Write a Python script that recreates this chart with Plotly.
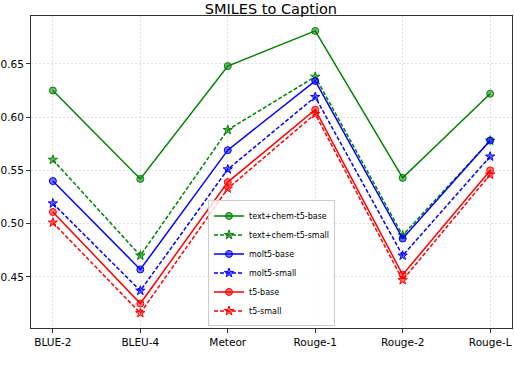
import plotly.graph_objects as go

# metrics on the x axis
metrics = ["BLUE-2", "BLEU-4", "Meteor", "Rouge-1", "Rouge-2", "Rouge-L"]

text_chem_t5_base = [0.625, 0.542, 0.648, 0.681, 0.543, 0.622]
text_chem_t5_small = [0.560, 0.470, 0.588, 0.638, 0.489, 0.578]
molt5_base = [0.540, 0.457, 0.569, 0.634, 0.486, 0.578]
molt5_small = [0.519, 0.437, 0.551, 0.619, 0.470, 0.563]
t5_base = [0.511, 0.425, 0.539, 0.607, 0.452, 0.550]
t5_small = [0.501, 0.416, 0.533, 0.603, 0.447, 0.546]

series = [
    ("text+chem-t5-base", text_chem_t5_base, "green", "rgba(0,128,0,0.55)", "solid", "circle"),
    ("text+chem-t5-small", text_chem_t5_small, "green", "rgba(0,128,0,0.55)", "4px,2px", "star"),
    ("molt5-base", molt5_base, "blue", "rgba(0,0,255,0.55)", "solid", "circle"),
    ("molt5-small", molt5_small, "blue", "rgba(0,0,255,0.55)", "4px,2px", "star"),
    ("t5-base", t5_base, "red", "rgba(255,0,0,0.55)", "solid", "circle"),
    ("t5-small", t5_small, "red", "rgba(255,0,0,0.55)", "4px,2px", "star"),
]

fig = go.Figure()
for name, vals, col, fill, dash, sym in series:
    fig.add_trace(go.Scatter(
        x=list(range(len(metrics))), y=vals, mode="lines+markers", name=name,
        line=dict(color=col, width=1.5, dash=dash),
        marker=dict(symbol=sym, size=7, color=fill,
                    line=dict(color=col, width=1)),
    ))

fig.update_layout(
    width=514, height=380,
    margin=dict(l=31, r=2, t=16, b=52),
    paper_bgcolor="white", plot_bgcolor="white",
    font=dict(family="DejaVu Sans", size=10.5, color="black"),
    title=dict(text="SMILES to Caption", x=0.527, xanchor="center", y=0.977, yanchor="middle",
               font=dict(size=14.5, color="black")),
    showlegend=True,
    legend=dict(x=0.5, xanchor="center", y=0.005, yanchor="bottom",
                bgcolor="rgba(255,255,255,0.8)", bordercolor="#cccccc", borderwidth=1,
                font=dict(size=8), tracegroupgap=0, itemwidth=30),
)
fig.update_xaxes(
    range=[-0.25, 5.25], tickvals=list(range(len(metrics))), ticktext=metrics,
    showline=True, linecolor="#333333", linewidth=1, mirror=True,
    ticks="outside", ticklen=4, tickcolor="#333333", automargin=False,
    showgrid=True, gridcolor="#e0e0e0", griddash="2px,2px", gridwidth=0.8, zeroline=False,
)
fig.update_yaxes(
    range=[0.402, 0.695], tickvals=[0.45, 0.50, 0.55, 0.60, 0.65],
    ticktext=["0.45", "0.50", "0.55", "0.60", "0.65"],
    showline=True, linecolor="#333333", linewidth=1, mirror=True,
    ticks="outside", ticklen=4, tickcolor="#333333", automargin=False,
    showgrid=True, gridcolor="#e0e0e0", griddash="2px,2px", gridwidth=0.8, zeroline=False,
)

fig.write_html("out.html", config={"displayModeBar": False},
               post_script="document.body.style.margin='0px';")
